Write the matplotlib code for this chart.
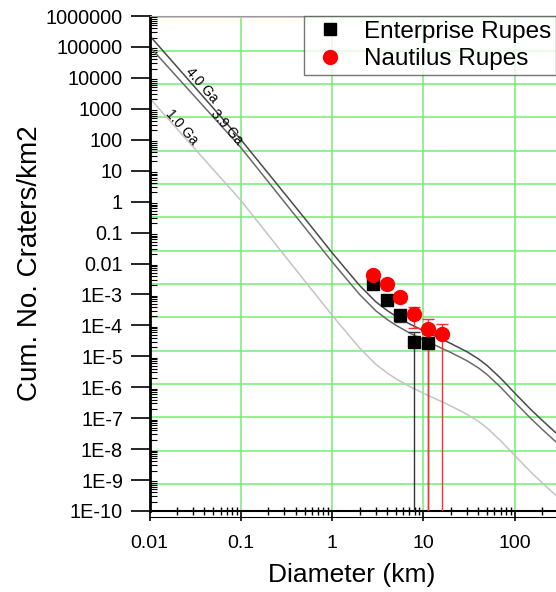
import numpy as np
import matplotlib
matplotlib.use('Agg')
from matplotlib import pyplot as plt
from matplotlib.ticker import FixedLocator, FixedFormatter, LogLocator, NullFormatter

plt.rcParams['font.family'] = ['Liberation Sans', 'DejaVu Sans']

# isochrons: diameter (km) and log10 of cumulative craters / km2
iso_d = [0.01, 0.1, 0.5, 1, 1.5, 2, 3, 4, 5, 7, 10, 15, 20, 30, 40, 50, 70, 100, 150, 200, 283]
log_n_40 = [5.370, 2.008, -0.538, -1.654, -2.274, -2.710, -3.234, -3.518, -3.706, -3.948,
            -4.175, -4.414, -4.588, -4.853, -5.083, -5.303, -5.707, -6.188, -6.721, -7.070, -7.478]
log_n_39 = [5.014, 1.749, -0.829, -1.945, -2.565, -3.001, -3.525, -3.809, -3.997, -4.239,
            -4.466, -4.705, -4.879, -5.144, -5.374, -5.594, -5.998, -6.479, -7.012, -7.361, -7.769]
log_n_10 = [3.350, 0.040, -2.558, -3.674, -4.294, -4.730, -5.254, -5.538, -5.726, -5.968,
            -6.195, -6.434, -6.608, -6.873, -7.103, -7.323, -7.727, -8.208, -8.741, -9.090, -9.498]

# crater counts
ent_d = [2.8, 4.0, 5.6, 7.9, 11.2]
ent_n = [2.2e-3, 6.8e-4, 2.1e-4, 3.0e-5, 2.6e-5]
ent_lo = [1.6e-3, 4.5e-4, 1.3e-4, 0, 0]
ent_hi = [2.8e-3, 9.0e-4, 2.8e-4, 6.0e-5, 5.2e-5]

nau_d = [2.8, 4.0, 5.6, 7.9, 11.2, 15.8]
nau_n = [4.1e-3, 2.1e-3, 8.5e-4, 2.4e-4, 7.9e-5, 5.4e-5]
nau_lo = [3.0e-3, 1.5e-3, 5.5e-4, 8.0e-5, 0, 0]
nau_hi = [5.2e-3, 2.7e-3, 1.15e-3, 4.0e-4, 1.58e-4, 1.08e-4]

x_ticks = [0.01, 0.1, 1, 10, 100]
x_labels = ['0.01', '0.1', '1', '10', '100']
y_ticks = [1e6, 1e5, 1e4, 1e3, 1e2, 1e1, 1, 0.1, 0.01, 1e-3, 1e-4, 1e-5, 1e-6, 1e-7,
           1e-8, 1e-9, 1e-10]
y_labels = ['1000000', '100000', '10000', '1000', '100', '10', '1', '0.1', '0.01',
            '1E-3', '1E-4', '1E-5', '1E-6', '1E-7', '1E-8', '1E-9', '1E-10']

GREEN = '#74ec74'

fig = plt.figure(figsize=(5.56, 5.92), dpi=100)
ax = fig.add_axes([149.5 / 556, 81 / 592, 406.5 / 556, 495 / 592])
ax.set_xscale('log')
ax.set_yscale('log')
ax.set_xlim(0.01, 283)
ax.set_ylim(1e-10, 1e6)

# grid: vertical at decades, horizontal lines sit slightly off the decades in the original
ax.grid(True, axis='x', which='major', color=GREEN, lw=1.1, zorder=0)
for k in range(15):
    f = 0.0545 + 0.06734 * k
    ax.plot([0, 1], [f, f], transform=ax.transAxes, color=GREEN, lw=1.1, zorder=0)

ax.plot(iso_d, np.power(10.0, log_n_40), color='#4a4a4a', lw=1.1, zorder=2)
ax.plot(iso_d, np.power(10.0, log_n_39), color='#6a6a6a', lw=1.1, zorder=2)
ax.plot(iso_d, np.power(10.0, log_n_10), color='#c4c4c4', lw=1.1, zorder=2)

ax.text(0.037, 5.9e3, '4.0 Ga', fontsize=10, rotation=-49, ha='center', va='center', rotation_mode='anchor')
ax.text(0.070, 264, '3.9 Ga', fontsize=10, rotation=-49, ha='center', va='center', rotation_mode='anchor')
ax.text(0.0226, 264, '1.0 Ga', fontsize=10, rotation=-49, ha='center', va='center', rotation_mode='anchor')

ent_n_a = np.array(ent_n)
nau_n_a = np.array(nau_n)
ax.errorbar(ent_d, ent_n, yerr=[ent_n_a - np.array(ent_lo), np.array(ent_hi) - ent_n_a],
            fmt='none', ecolor='#333333', elinewidth=1, capsize=4, capthick=1, zorder=3)
ax.errorbar(nau_d, nau_n, yerr=[nau_n_a - np.array(nau_lo), np.array(nau_hi) - nau_n_a],
            fmt='none', ecolor='#ff3030', elinewidth=1, capsize=4, capthick=1, zorder=3)
ax.plot(ent_d, ent_n, 's', color='black', ms=8.5, ls='none', zorder=4, label='Enterprise Rupes')
ax.plot(nau_d, nau_n, 'o', color='red', ms=10, ls='none', zorder=5, label='Nautilus Rupes')

# axes and ticks
ax.xaxis.set_major_locator(FixedLocator(x_ticks))
ax.xaxis.set_major_formatter(FixedFormatter(x_labels))
ax.xaxis.set_minor_locator(LogLocator(base=10, subs=np.arange(2, 10), numticks=100))
ax.xaxis.set_minor_formatter(NullFormatter())
ax.yaxis.set_major_locator(FixedLocator(y_ticks))
ax.yaxis.set_major_formatter(FixedFormatter(y_labels))
ax.yaxis.set_minor_locator(LogLocator(base=10, subs=np.arange(2, 10), numticks=100))
ax.yaxis.set_minor_formatter(NullFormatter())

ax.tick_params(axis='x', which='major', direction='out', length=7, width=1.2, labelsize=14, pad=10)
ax.tick_params(axis='x', which='minor', direction='inout', length=6, width=1)
ax.tick_params(axis='y', which='major', direction='out', length=14, width=1.2, labelsize=14.3, pad=5)
ax.tick_params(axis='y', which='minor', direction='in', length=5, width=0.8)

ax.spines['left'].set_linewidth(2)
ax.spines['bottom'].set_linewidth(1.5)
ax.spines['right'].set_visible(False)
ax.spines['top'].set_color('#999999')
ax.spines['top'].set_linewidth(0.8)
# second thin line under the bottom axis
ax.plot([0, 1], [-0.013, -0.013], transform=ax.transAxes, color='black', lw=0.8, clip_on=False)

ax.set_xlabel('Diameter (km)', fontsize=19)
ax.set_ylabel('Cum. No. Craters/km2', fontsize=20)
ax.xaxis.set_label_coords(0.4975, -0.13)
ax.xaxis.label.set_va('center')
ax.yaxis.set_label_coords(-0.293, 0.5)
ax.yaxis.label.set_va('center')

leg = ax.legend(loc='upper left', bbox_to_anchor=(0.379, 1.0), borderaxespad=0,
                fontsize=17.5, frameon=True, fancybox=False, edgecolor='#555555',
                borderpad=0.2, labelspacing=0.23, handlelength=1.75, handletextpad=0.52)
leg.get_frame().set_linewidth(1)
leg.set_zorder(10)

fig.savefig('out.png', dpi=100)
